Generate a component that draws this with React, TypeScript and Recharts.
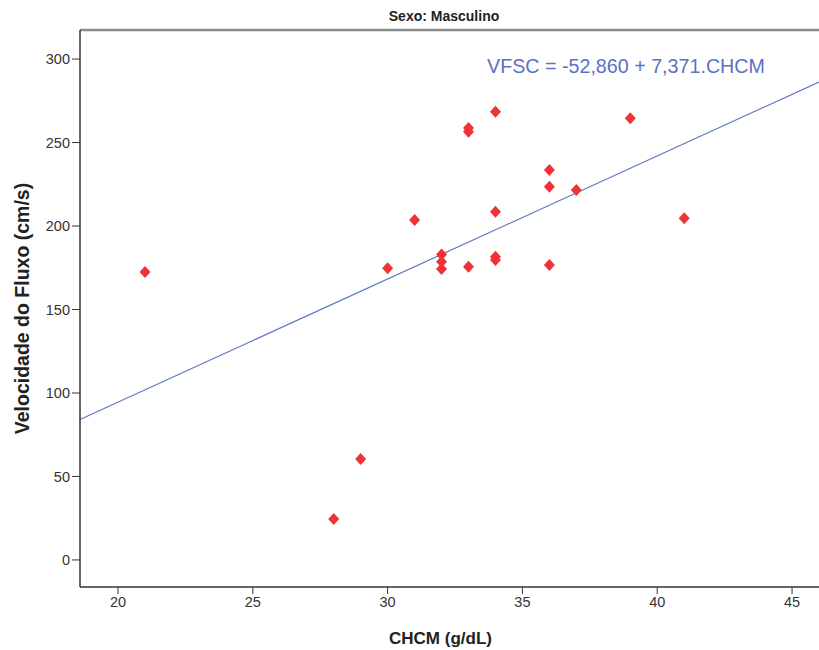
import { ScatterChart, Scatter, XAxis, YAxis, ReferenceLine, Customized } from "recharts";

// CHCM (g/dL) per patient
const chcm = [21, 28, 29, 30, 31, 32, 32, 32, 33, 33, 33, 34, 34, 34, 34, 36, 36, 36, 37, 39, 41];
// flow velocity (cm/s)
const vfsc = [172.5, 24.5, 60.5, 174.7, 203.6, 183, 178.6, 174.3, 258.7, 256.5, 175.6, 268.5, 208.6, 181.6, 179.6, 233.5, 223.5, 176.6, 221.6, 264.5, 204.6];

const xTicks = [20, 25, 30, 35, 40, 45];
const yTicks = [0, 50, 100, 150, 200, 250, 300];

const intercept = -52.86;
const slope = 7.371;

const X_MIN = 18.59;
const X_MAX = 46.0;
const Y_MIN = -16.2;
const Y_MAX = 317.4;

const pontos = chcm.map((x, i) => ({ x, y: vfsc[i] }));

const FONT = '"Liberation Sans", Arial, sans-serif';

function Losango(props: any) {
  const { cx, cy } = props;
  return (
    <polygon
      points={`${cx},${cy - 6} ${cx + 5.5},${cy} ${cx},${cy + 6} ${cx - 5.5},${cy}`}
      fill="#ee3338"
    />
  );
}

export default function App() {
  return (
    <div style={{ position: "absolute", left: 0, top: 0, background: "#fff" }}>
      <ScatterChart width={819} height={650} margin={{ top: 30, right: 0, bottom: 0, left: 0 }}>
        <XAxis
          type="number"
          dataKey="x"
          domain={[X_MIN, X_MAX]}
          ticks={xTicks}
          allowDataOverflow
          height={63}
          tickSize={7}
          tickMargin={3}
          axisLine={{ stroke: "#333", strokeWidth: 1.5 }}
          tickLine={{ stroke: "#333" }}
          tick={{ fontSize: 14.5, fill: "#333", fontFamily: FONT }}
          label={{
            value: "CHCM (g/dL)",
            position: "insideBottom",
            offset: 6,
            dx: -9,
            style: { fontSize: 17, fontWeight: "bold", fill: "#222", fontFamily: FONT },
          }}
        />
        <YAxis
          type="number"
          dataKey="y"
          domain={[Y_MIN, Y_MAX]}
          ticks={yTicks}
          allowDataOverflow
          width={80}
          tickSize={8}
          tickMargin={2}
          axisLine={{ stroke: "#333", strokeWidth: 1.5 }}
          tickLine={{ stroke: "#333" }}
          tick={{ fontSize: 14.5, fill: "#333", fontFamily: FONT }}
          label={{
            value: "Velocidade do Fluxo (cm/s)",
            angle: -90,
            position: "insideLeft",
            offset: 22,
            style: { textAnchor: "middle", fontSize: 19.5, fontWeight: "bold", fill: "#222", fontFamily: FONT },
          }}
        />
        <ReferenceLine y={Y_MAX} stroke="#8c8c8c" strokeWidth={2.5} ifOverflow="visible" />
        <ReferenceLine
          segment={[
            { x: X_MIN, y: intercept + slope * X_MIN },
            { x: X_MAX, y: intercept + slope * X_MAX },
          ]}
          stroke="#6278c8"
          strokeWidth={1.2}
        />
        <Scatter data={pontos} shape={<Losango />} isAnimationActive={false} />
        <Customized
          component={() => (
            <g>
              <text x={444} y={21} textAnchor="middle" fontSize={14} fontWeight="bold" fill="#222" fontFamily={FONT}>
                Sexo: Masculino
              </text>
              <text x={487} y={73} fontSize={19.7} fill="#5b71c4" fontFamily={FONT}>
                VFSC = -52,860 + 7,371.CHCM
              </text>
            </g>
          )}
        />
      </ScatterChart>
    </div>
  );
}
